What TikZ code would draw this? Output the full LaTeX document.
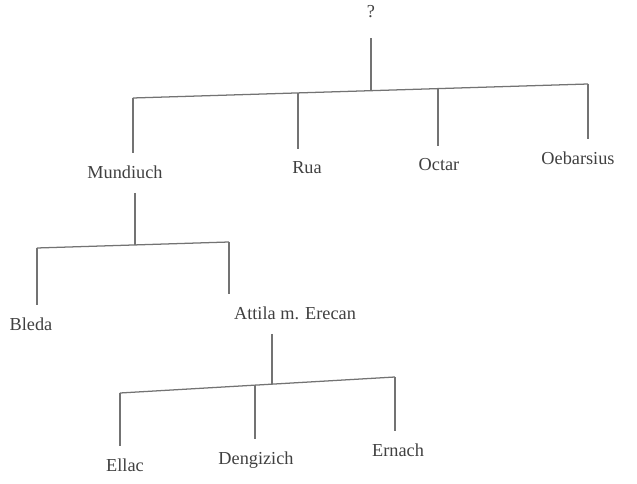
\documentclass[tikz,border=0pt]{standalone}
\usepackage{fontspec}
\setmainfont{Liberation Serif}
\usepackage{tikz}
\usepackage{xcolor}

\begin{document}
\begin{tikzpicture}[x=0.025cm,y=-0.025cm,
    person/.style={font=\fontsize{13}{15}\selectfont,text=black!75,inner sep=2pt},
    link/.style={draw=black!55,line width=0.9pt},
    drop/.style={link,shorten >=7pt}]
  \useasboundingbox (0,0) rectangle (637,484);

  % names
  \node[person] (q)      at (371,12)  {?};
  \node[person] (mund)   at (125,172) {Mundiuch};
  \node[person] (rua)    at (307,168) {Rua};
  \node[person] (octar)  at (439,165) {Octar};
  \node[person] (oeb)    at (578,158) {Oebarsius};
  \node[person] (bleda)  at (31,324)  {Bleda};
  \node[person] (attila) at (295,313) {Attila m. Erecan};
  \node[person] (ellac)  at (125,465) {Ellac};
  \node[person] (deng)   at (256,460) {Dengizich};
  \node[person] (ernach) at (398,450) {Ernach};

  % first generation
  \coordinate (t0) at (371,90.7);
  \coordinate (t1) at (133,98);
  \coordinate (t2) at (298,93);
  \coordinate (t3) at (438,88.6);
  \coordinate (t4) at (588,84);
  \draw[link,shorten <=12pt] (q) -- (t0);
  \draw[link] (t1) -- (t4);
  \draw[drop] (t1) -- (t1 |- mund.north);
  \draw[drop] (t2) -- (t2 |- rua.north);
  \draw[drop] (t3) -- (t3 |- octar.north);
  \draw[drop] (t4) -- (t4 |- oeb.north);

  % sons of Mundiuch
  \coordinate (m0) at (135,245);
  \coordinate (m1) at (37,248);
  \coordinate (m2) at (229,242);
  \draw[link,shorten <=8pt] (mund.south -| m0) -- (m0);
  \draw[link] (m1) -- (m2);
  \draw[drop] (m1) -- (m1 |- bleda.north);
  \draw[drop] (m2) -- (m2 |- attila.north);

  % sons of Attila
  \coordinate (a0) at (272,384.2);
  \coordinate (a1) at (120,393);
  \coordinate (a2) at (255,385.1);
  \coordinate (a3) at (395,377);
  \draw[link,shorten <=8pt] (attila.south -| a0) -- (a0);
  \draw[link] (a1) -- (a3);
  \draw[drop] (a1) -- (a1 |- ellac.north);
  \draw[drop] (a2) -- (a2 |- deng.north);
  \draw[drop] (a3) -- (a3 |- ernach.north);
\end{tikzpicture}
\end{document}
